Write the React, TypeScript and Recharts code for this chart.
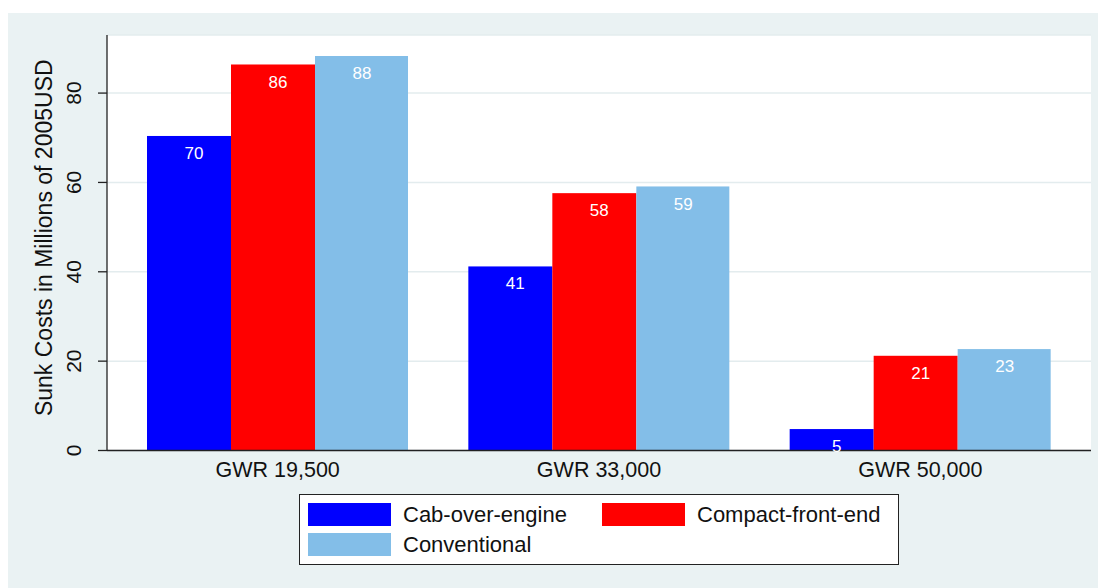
import { BarChart, Bar, XAxis, YAxis, CartesianGrid, Legend, LabelList, Label } from 'recharts';

const groups = ['GWR 19,500', 'GWR 33,000', 'GWR 50,000'];
const cabOverEngine = [70.4, 41.2, 4.8];
const compactFrontEnd = [86.4, 57.6, 21.2];
const conventional = [88.3, 59.1, 22.7];
const yTicks = [0, 20, 40, 60, 80];

const FONT = '"Liberation Sans", Arial, Helvetica, sans-serif';
const INK = '#111111';
const AXIS = '#222222';
const PANEL = '#EAF2F3';

const data = groups.map((group, i) => ({
  group,
  cab: cabOverEngine[i],
  compact: compactFrontEnd[i],
  conventional: conventional[i],
}));

// stata draws the last bar of each group a bit wider, nudge everything left a touch
const barShape = (extra: number) => (props: any) => {
  const { x, y, width, height, fill } = props;
  if (!height || height <= 0) return null;
  return <rect x={x - 5} y={y} width={width + extra} height={height} fill={fill} />;
};

function YTick({ x, y, payload }: any) {
  const bx = x - 15;
  return (
    <text
      x={bx}
      y={y}
      transform={`rotate(-90, ${bx}, ${y})`}
      textAnchor="middle"
      fontSize={21}
      fill={INK}
      fontFamily={FONT}
    >
      {payload.value}
    </text>
  );
}

function YTitle(props: any) {
  const vb = props.viewBox || { x: 0, y: 22, width: 99, height: 415.5 };
  const cx = vb.x + 44;
  const cy = vb.y + vb.height / 2 - 5;
  return (
    <text
      x={cx}
      y={cy}
      transform={`rotate(-90, ${cx}, ${cy})`}
      textAnchor="middle"
      fontSize={23}
      fill={INK}
      fontFamily={FONT}
    >
      Sunk Costs in Millions of 2005USD
    </text>
  );
}

function LegendBox({ payload }: any) {
  const items = payload ?? [];
  return (
    <div
      style={{
        boxSizing: 'border-box',
        width: 600,
        height: 71,
        background: '#fff',
        border: `1px solid ${AXIS}`,
        position: 'relative',
        fontFamily: FONT,
        fontSize: 22,
      }}
    >
      {items.map((item: any, i: number) => {
        const col = i % 2;
        const row = Math.floor(i / 2);
        return (
          <div
            key={item.value}
            style={{
              position: 'absolute',
              left: 8 + col * 294,
              top: 8 + row * 30,
              height: 23,
              display: 'flex',
              alignItems: 'center',
              whiteSpace: 'nowrap',
            }}
          >
            <span style={{ display: 'inline-block', width: 83, height: 23, background: item.color }} />
            <span style={{ marginLeft: 12, color: INK, lineHeight: '23px' }}>{item.value}</span>
          </div>
        );
      })}
    </div>
  );
}

export default function App() {
  return (
    <div
      style={{
        position: 'absolute',
        left: 8,
        top: 13,
        width: 1090,
        height: 575,
        background: PANEL,
        fontFamily: FONT,
      }}
    >
      <BarChart
        width={1090}
        height={575}
        data={data}
        margin={{ top: 22, right: 7, bottom: 107.5, left: 0 }}
        barGap={0}
        barSize={84}
      >
        <CartesianGrid vertical={false} stroke="#E3ECEE" strokeWidth={1.5} fill="#ffffff" />
        <XAxis
          dataKey="group"
          interval={0}
          height={30}
          padding={{ left: 10, right: 10 }}
          tickSize={0}
          tickMargin={11}
          tickLine={false}
          axisLine={{ stroke: AXIS, strokeWidth: 1.3 }}
          tick={{ fill: INK, fontSize: 21.5, fontFamily: FONT }}
        />
        <YAxis
          type="number"
          domain={[0, 93]}
          ticks={yTicks}
          width={99}
          tickSize={9}
          axisLine={{ stroke: AXIS, strokeWidth: 1.3 }}
          tickLine={{ stroke: AXIS, strokeWidth: 1.3 }}
          tick={<YTick />}
          label={<Label content={<YTitle />} />}
        />
        <Legend
          layout="horizontal"
          verticalAlign="middle"
          align="center"
          wrapperStyle={{ left: 291, top: 481, bottom: 'auto', width: 600, height: 71 }}
          content={<LegendBox />}
        />
        <Bar dataKey="cab" name="Cab-over-engine" fill="#0000FF" isAnimationActive={false} shape={barShape(0)}>
          <LabelList dataKey="cab" position="insideTop" offset={11} fill="#fff" fontSize={17} formatter={(v: any) => Math.round(v)} />
        </Bar>
        <Bar dataKey="compact" name="Compact-front-end" fill="#FF0000" isAnimationActive={false} shape={barShape(0)}>
          <LabelList dataKey="compact" position="insideTop" offset={11} fill="#fff" fontSize={17} formatter={(v: any) => Math.round(v)} />
        </Bar>
        <Bar dataKey="conventional" name="Conventional" fill="#83BEE8" isAnimationActive={false} shape={barShape(9)}>
          <LabelList dataKey="conventional" position="insideTop" offset={11} fill="#fff" fontSize={17} formatter={(v: any) => Math.round(v)} />
        </Bar>
      </BarChart>
    </div>
  );
}
